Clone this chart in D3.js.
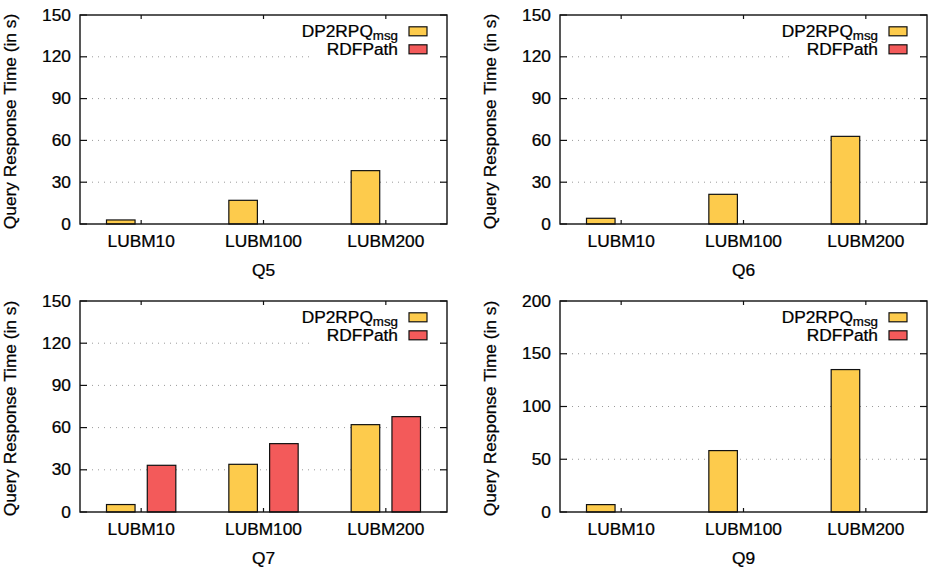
<!DOCTYPE html>
<html>
<head>
<meta charset="utf-8">
<script src="https://cdn.jsdelivr.net/npm/d3@7"></script>
<style>
  body { margin: 0; background: #fff; }
  svg { display: block; }
  text { font-family: "Liberation Sans", Arial, Helvetica, sans-serif; fill: #000; stroke: #000; stroke-width: 0.25px; }
</style>
</head>
<body>
<svg id="chart" width="928" height="568"></svg>
<script>
// data
var categories = ["LUBM10", "LUBM100", "LUBM200"];
var queries = ["Q5", "Q6", "Q7", "Q9"];
var seriesNames = ["DP2RPQ", "RDFPath"];

var dp2rpqQ5 = [2.9, 17.0, 38.3];
var dp2rpqQ6 = [4.1, 21.3, 62.9];
var dp2rpqQ7 = [5.3, 33.9, 62.1];
var dp2rpqQ9 = [7.0, 58.2, 135.0];

var rdfpathQ5 = [null, null, null];
var rdfpathQ6 = [null, null, null];
var rdfpathQ7 = [33.2, 48.6, 67.8];
var rdfpathQ9 = [null, null, null];

var yMaxes = [150, 150, 150, 200];
var yTicksSmall = [0, 30, 60, 90, 120, 150];
var yTicksLarge = [0, 50, 100, 150, 200];

var panels = [
  { q: queries[0], a: dp2rpqQ5, b: rdfpathQ5, ymax: yMaxes[0], ticks: yTicksSmall, col: 0, row: 0 },
  { q: queries[1], a: dp2rpqQ6, b: rdfpathQ6, ymax: yMaxes[1], ticks: yTicksSmall, col: 1, row: 0 },
  { q: queries[2], a: dp2rpqQ7, b: rdfpathQ7, ymax: yMaxes[2], ticks: yTicksSmall, col: 0, row: 1 },
  { q: queries[3], a: dp2rpqQ9, b: rdfpathQ9, ymax: yMaxes[3], ticks: yTicksLarge, col: 1, row: 1 }
];

var colors = { DP2RPQ: "#fdcb4c", RDFPath: "#f35a5a" };
var fontSize = 15.6;
var stretch = 1.11;   // the figure's font is a bit wider than Arial

var svg = d3.select("#chart");

// text helper: put text in a group so it can be stretched horizontally
function label(g, x, y, str, anchor, rot) {
  var t = g.append("g")
    .attr("transform", "translate(" + x + "," + y + ")" + (rot ? " rotate(" + rot + ")" : "") + " scale(" + stretch + ",1)");
  return t.append("text")
    .attr("text-anchor", anchor)
    .style("font-size", fontSize + "px")
    .text(str);
}

panels.forEach(function (p) {
  var left = 80 + p.col * 480;
  var width = 367;
  var top = p.row == 0 ? 15 : 301;
  var height = p.row == 0 ? 209 : 211;

  var g = svg.append("g");

  var x = d3.scalePoint()
    .domain(categories)
    .range([left, left + width])
    .padding(0.5);
  var unit = x.step() / 3;
  var xSub = d3.scaleBand()
    .domain(seriesNames)
    .range([-unit, unit])
    .paddingInner(0.3)
    .paddingOuter(0.15);

  var y = d3.scaleLinear()
    .domain([0, p.ymax])
    .range([top + height, top]);

  // dotted grid
  g.append("g").selectAll("line")
    .data(p.ticks.filter(function (d) { return d > 0 && d < p.ymax; }))
    .join("line")
    .attr("x1", left).attr("x2", left + width)
    .attr("y1", function (d) { return y(d); })
    .attr("y2", function (d) { return y(d); })
    .style("stroke", "#9a9a9a")
    .style("stroke-width", 1)
    .style("stroke-dasharray", "1,5");

  // bars
  var rows = [];
  categories.forEach(function (c, i) {
    rows.push({ cat: c, s: "DP2RPQ", v: p.a[i] });
    rows.push({ cat: c, s: "RDFPath", v: p.b[i] });
  });
  g.append("g").selectAll("rect")
    .data(rows.filter(function (d) { return d.v != null; }))
    .join("rect")
    .attr("x", function (d) { return x(d.cat) + xSub(d.s); })
    .attr("width", xSub.bandwidth())
    .attr("y", function (d) { return y(d.v); })
    .attr("height", function (d) { return y(0) - y(d.v); })
    .style("fill", function (d) { return colors[d.s]; })
    .style("stroke", "#111")
    .style("stroke-width", 1.2);

  // legend (white box hides the grid behind it)
  var lg = g.append("g");
  var right = left + width;
  lg.append("rect")
    .attr("x", right - 137).attr("y", top + 4)
    .attr("width", 128).attr("height", 42)
    .style("fill", "#fff");
  seriesNames.forEach(function (s, i) {
    var cy = top + 16.3 + i * 18;
    lg.append("rect")
      .attr("x", right - 38).attr("y", cy - 4.5)
      .attr("width", 18).attr("height", 9)
      .style("fill", colors[s])
      .style("stroke", "#111")
      .style("stroke-width", 1.2);
    var t = label(lg, right - 49, cy, "", "end");
    t.attr("dy", "0.36em");
    if (s == "DP2RPQ") {
      t.append("tspan").text("DP2RPQ");
      t.append("tspan").attr("dy", 3.5).style("font-size", "12px").text("msg");
    } else {
      t.text(s);
    }
  });

  // ticks on all four sides, pointing inward
  var tk = g.append("g").style("stroke", "#111").style("stroke-width", 1.2);
  p.ticks.forEach(function (d) {
    tk.append("line").attr("x1", left).attr("x2", left + 7).attr("y1", y(d)).attr("y2", y(d));
    tk.append("line").attr("x1", right).attr("x2", right - 7).attr("y1", y(d)).attr("y2", y(d));
    label(g, left - 9, y(d), d, "end").attr("dy", "0.36em");
  });
  categories.forEach(function (c) {
    tk.append("line").attr("x1", x(c)).attr("x2", x(c)).attr("y1", top + height).attr("y2", top + height - 4);
    tk.append("line").attr("x1", x(c)).attr("x2", x(c)).attr("y1", top).attr("y2", top + 4);
    label(g, x(c), top + height + 22.6, c, "middle");
  });

  // frame
  g.append("rect")
    .attr("x", left).attr("y", top)
    .attr("width", width).attr("height", height)
    .style("fill", "none")
    .style("stroke", "#111")
    .style("stroke-width", 1.4);

  // titles
  label(g, left + width / 2, top + height + 52, p.q, "middle");
  label(g, left - 64, top + height / 2 + 2, "Query Response Time (in s)", "middle", -90);
});
</script>
</body>
</html>
